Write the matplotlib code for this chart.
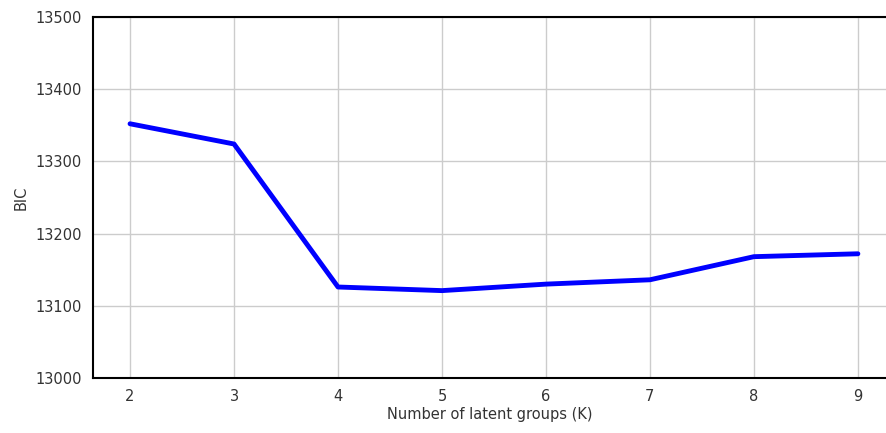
import matplotlib
matplotlib.use("Agg")
import matplotlib.pyplot as plt

# BIC per number of latent groups
k_values = [2, 3, 4, 5, 6, 7, 8, 9]
bic = [13352, 13324, 13126, 13121, 13130, 13136, 13168, 13172]
y_ticks = [13000, 13100, 13200, 13300, 13400, 13500]

fig = plt.figure(figsize=(8.87, 4.33), dpi=100)
ax = fig.add_axes([0.105, 0.127, 0.895, 0.834])

ax.plot(k_values, bic, color="blue", linewidth=3.5, solid_capstyle="round")

ax.set_xlim(1.645, 9.28)
ax.set_ylim(13000, 13500)
ax.set_xticks(k_values)
ax.set_yticks(y_ticks)
ax.grid(True, color="#cccccc", linewidth=1)
ax.set_axisbelow(True)
ax.tick_params(length=0, pad=8, labelsize=10.5, colors="#333333")

for side in ["left", "top", "bottom"]:
    ax.spines[side].set_color("black")
    ax.spines[side].set_linewidth(1.5)
ax.spines["right"].set_visible(False)

ax.set_xlabel("Number of latent groups (K)", fontsize=10.5, color="#333333", labelpad=2)
ax.set_ylabel("BIC", fontsize=10.5, color="#333333", labelpad=5)

fig.savefig("out.png", dpi=100)
